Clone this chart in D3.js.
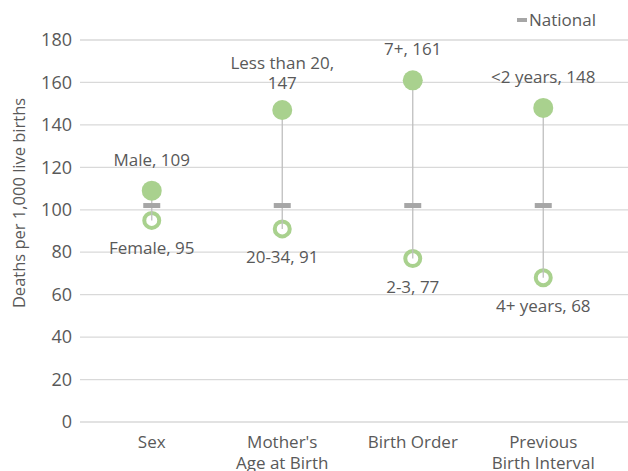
<!DOCTYPE html>
<html>
<head>
<meta charset="utf-8">
<script src="https://cdn.jsdelivr.net/npm/d3@7"></script>
<style>
  body { margin: 0; background: #fff; }
  text { font-family: "Open Sans", "Liberation Sans", sans-serif; fill: #595959; }
</style>
</head>
<body>
<div class="chart"></div>
<script>
// chart data
const categories = ["Sex", "Mother's|Age at Birth", "Birth Order", "Previous|Birth Interval"];
const highLabels = ["Male", "Less than 20,", "7+", "<2 years"];
const highValues = [109, 147, 161, 148];
const lowLabels = ["Female", "20-34", "2-3", "4+ years"];
const lowValues = [95, 91, 77, 68];
const nationalValue = 102;
const yTicks = [0, 20, 40, 60, 80, 100, 120, 140, 160, 180];

const width = 628, height = 471;
const green = "#a9d18e";

const svg = d3.select(".chart").append("svg")
  .attr("width", width)
  .attr("height", height);

const x = d3.scaleBand()
  .domain(categories)
  .range([86.5, 608.5]);

const y = d3.scaleLinear()
  .domain([0, 180])
  .range([422, 40]);

// gridlines
svg.append("g")
  .selectAll("line")
  .data(yTicks)
  .enter().append("line")
  .attr("x1", 80)
  .attr("x2", width)
  .attr("y1", d => y(d))
  .attr("y2", d => y(d))
  .attr("stroke", "#d9d9d9")
  .attr("stroke-width", 1.3);

// y axis labels
const yAxis = svg.append("g")
  .attr("transform", "translate(72,0)")
  .call(d3.axisLeft(y).tickValues(yTicks).tickSize(0).tickPadding(0));
yAxis.select(".domain").remove();
yAxis.selectAll("text")
  .style("font-size", "18px")
  .attr("fill", "#595959");

svg.append("text")
  .attr("transform", "translate(25,203) rotate(-90)")
  .attr("text-anchor", "middle")
  .style("font-size", "16.5px")
  .text("Deaths per 1,000 live births");

// x axis labels (second line is cut by the bottom edge, as in the source)
const xAxis = svg.append("g")
  .attr("transform", "translate(0,422)")
  .call(d3.axisBottom(x).tickSize(0).tickPadding(0).tickFormat(""));
xAxis.select(".domain").remove();
xAxis.selectAll(".tick").each(function (d) {
  const t = d3.select(this).append("text")
    .attr("text-anchor", "middle")
    .style("font-size", "17px");
  d.split("|").forEach((s, i) => {
    t.append("tspan").attr("x", 0).attr("y", 26 + i * 21).text(s);
  });
});

const cx = (d, i) => x(categories[i]) + x.bandwidth() / 2;

// low markers (hollow)
svg.append("g")
  .selectAll("circle")
  .data(lowValues)
  .enter().append("circle")
  .attr("cx", cx)
  .attr("cy", d => y(d))
  .attr("r", 7.5)
  .attr("fill", "#fff")
  .attr("stroke", green)
  .attr("stroke-width", 4);

// high-low lines
svg.append("g")
  .selectAll("line")
  .data(highValues)
  .enter().append("line")
  .attr("x1", cx)
  .attr("x2", cx)
  .attr("y1", d => y(d))
  .attr("y2", (d, i) => y(lowValues[i]))
  .attr("stroke", "#bfbfbf")
  .attr("stroke-width", 1.3);

// national dashes
svg.append("g")
  .selectAll("rect")
  .data(categories)
  .enter().append("rect")
  .attr("x", (d, i) => cx(d, i) - 8.5)
  .attr("y", y(nationalValue) - 2.5)
  .attr("width", 17)
  .attr("height", 5)
  .attr("fill", "#a6a6a6");

// high markers (filled)
svg.append("g")
  .selectAll("circle")
  .data(highValues)
  .enter().append("circle")
  .attr("cx", cx)
  .attr("cy", d => y(d))
  .attr("r", 10)
  .attr("fill", green);

// data labels
const labels = svg.append("g").style("font-size", "17px");
highValues.forEach((v, i) => {
  if (highLabels[i].endsWith(",")) {
    labels.append("text")
      .attr("text-anchor", "middle")
      .attr("x", cx(v, i)).attr("y", y(v) - 41)
      .text(highLabels[i]);
    labels.append("text")
      .attr("text-anchor", "middle")
      .attr("x", cx(v, i)).attr("y", y(v) - 21)
      .text(v);
  } else {
    labels.append("text")
      .attr("text-anchor", "middle")
      .attr("x", cx(v, i)).attr("y", y(v) - 25)
      .text(highLabels[i] + ", " + v);
  }
});
lowValues.forEach((v, i) => {
  labels.append("text")
    .attr("text-anchor", "middle")
    .attr("x", cx(v, i))
    .attr("y", y(v) + 34)
    .text(lowLabels[i] + ", " + v);
});

// legend
svg.append("rect")
  .attr("x", 517)
  .attr("y", 18)
  .attr("width", 10)
  .attr("height", 4)
  .attr("fill", "#a6a6a6");
svg.append("text")
  .attr("x", 529)
  .attr("y", 26)
  .style("font-size", "17px")
  .text("National");
</script>
</body>
</html>
